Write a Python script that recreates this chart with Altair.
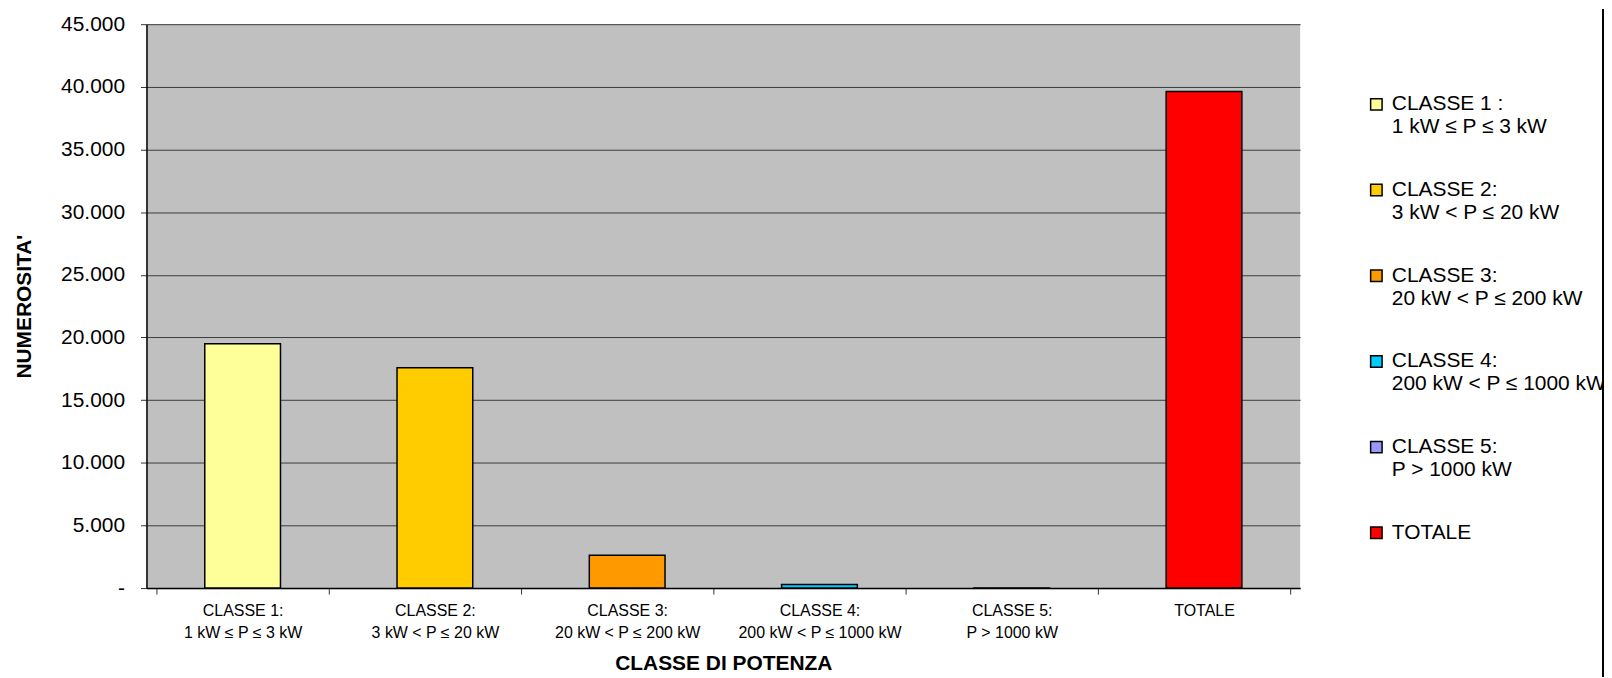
import altair as alt
import pandas as pd

categories = ["CLASSE 1:|1 kW ≤ P ≤ 3 kW", "CLASSE 2:|3 kW < P ≤ 20 kW", "CLASSE 3:|20 kW < P ≤ 200 kW",
              "CLASSE 4:|200 kW < P ≤ 1000 kW", "CLASSE 5:|P > 1000 kW", "TOTALE"]
legend_labels = ["CLASSE 1 :|1 kW ≤ P ≤ 3 kW", "CLASSE 2:|3 kW < P ≤ 20 kW", "CLASSE 3:|20 kW < P ≤ 200 kW",
                 "CLASSE 4:|200 kW < P ≤ 1000 kW", "CLASSE 5:|P > 1000 kW", "TOTALE"]
values = [19490, 17590, 2615, 280, 1, 39630]
colors = ["#FFFF99", "#FFCC00", "#FF9900", "#00CCFF", "#9999FF", "#FF0000"]
y_ticks = list(range(0, 45001, 5000))

df = pd.DataFrame({"cat": categories, "leg": legend_labels, "val": values})

FONT = "Liberation Sans"

W, H = 1158, 566

bars = alt.Chart(df).mark_bar(size=76, stroke="black", strokeWidth=1.5).encode(
    x=alt.X("cat:N", sort=categories, title="CLASSE DI POTENZA",
            axis=alt.Axis(labelExpr="split(datum.label, '|')", labelAngle=0, labelFontSize=16,
                          labelLineHeight=22, labelPadding=9, tickBand="extent", tickSize=6,
                          tickColor="#333333", domainColor="black", domainWidth=1.5, labelColor="black",
                          labelLimit=400,
                          titleFontSize=21, titleFontWeight="bold", titlePadding=12,
                          labelFont=FONT, titleFont=FONT, titleColor="black")),
    y=alt.Y("val:Q", scale=alt.Scale(domain=[0, 45000]), title="NUMEROSITA'",
            axis=alt.Axis(values=y_ticks,
                          labelExpr="datum.value == 0 ? '-' : replace(format(datum.value, ','), ',', '.')",
                          labelFontSize=21, labelPadding=16, tickSize=6, tickColor="#333333",
                          domainColor="black", domainWidth=1.5, labelColor="black", gridColor="#3c3c3c",
                          gridWidth=1, titleFontSize=21, titleFontWeight="bold", titlePadding=26,
                          labelFont=FONT, titleFont=FONT, titleColor="black")),
    color=alt.Color("leg:N", sort=legend_labels,
                    scale=alt.Scale(domain=legend_labels, range=colors),
                    legend=alt.Legend(title=None, orient="none", legendX=1224, legendY=70, padding=0,
                                      labelExpr="split(datum.label, '|')",
                                      labelFontSize=21,
                                      labelFont=FONT, labelColor="black", labelOffset=5,
                                      symbolType="square", symbolSize=132, symbolStrokeColor="black",
                                      symbolStrokeWidth=1.5, rowPadding=41, labelBaseline="middle",
                                      labelLimit=400)),
)

border = alt.Chart(df).mark_rule(color="black", strokeWidth=1.5).encode(
    x=alt.value(1462), y=alt.value(-15), y2=alt.value(H + 90)
)

chart = alt.layer(bars, border).properties(
    width=W, height=H,
    padding={"left": 139, "top": 15, "right": 305, "bottom": 88},
    autosize=alt.AutoSizeParams(type="none"),
).configure(background="white").configure_view(fill="#C0C0C0", stroke=None)

chart.save("out.html", embed_options={"renderer": "svg", "actions": False})
